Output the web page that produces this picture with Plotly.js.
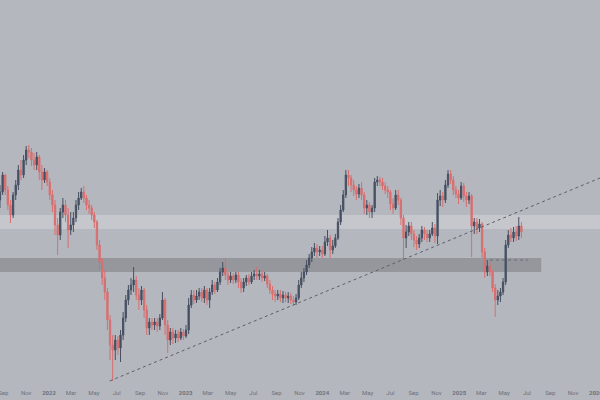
<!DOCTYPE html>
<html>
<head>
<meta charset="utf-8">
<script src="https://cdn.plot.ly/plotly-3.0.1.min.js"></script>
<style>html,body{margin:0;padding:0;background:#b4b7be;}#chart{width:600px;height:400px;}</style>
</head>
<body>
<div id="chart"></div>
<script>
// Weekly candles, first week starting 2021-08-16
const startWeek = '2021-08-16';
const openV = [205,200,208,225,210,195,185,205,215,230,225,240,250,248,240,235,243,228,220,228,
218,205,195,175,165,188,195,185,170,175,182,195,202,208,202,195,192,185,178,155,
138,122,108,80,55,50,60,52,65,82,100,110,115,120,105,100,110,90,72,78,
75,78,74,82,100,75,60,68,62,66,62,68,64,70,95,105,100,104,108,102,
110,100,108,115,110,118,128,132,125,120,124,120,125,118,112,118,122,118,124,126,
124,126,122,124,116,110,106,104,106,102,105,102,104,100,98,102,115,122,128,135,
142,148,152,148,150,146,158,162,150,154,162,178,190,205,225,222,215,210,206,212,
205,192,195,188,192,218,220,218,214,210,208,196,192,205,200,182,162,168,174,166,
160,156,162,170,166,162,166,172,164,200,204,200,215,226,220,210,206,202,214,204,
200,204,174,178,172,176,148,128,134,128,112,100,104,108,118,155,165,162,168,164,
174];
const highV = [210,215,228,226,214,200,208,220,235,240,245,254,255,252,247,248,245,235,232,230,
222,210,200,182,192,202,200,192,188,188,200,208,212,214,205,200,195,188,180,160,
142,130,112,85,65,65,64,70,88,105,115,122,133,124,112,114,112,95,82,82,
82,82,86,108,102,80,72,72,70,70,72,71,75,102,110,110,110,112,112,114,
112,112,120,118,122,132,138,142,128,128,127,128,128,122,122,125,126,128,130,133,
130,130,128,126,120,114,110,110,110,109,108,108,107,104,106,120,128,132,140,146,
153,157,156,154,154,164,170,165,160,166,182,195,210,230,230,225,220,214,216,218,
208,200,198,195,222,224,223,222,218,214,210,202,210,210,202,185,175,178,178,170,
164,166,174,173,170,170,178,176,207,210,208,220,230,230,224,214,210,218,217,208,
208,206,182,182,181,178,152,140,138,130,116,110,112,122,160,170,172,173,174,183,
178];
const lowV = [195,192,205,205,190,177,182,200,210,220,222,235,242,234,230,230,220,210,217,214,
200,188,165,145,160,182,178,152,165,168,178,190,200,197,190,186,180,172,150,130,
115,100,70,40,19,40,45,38,60,78,95,105,108,100,90,95,82,65,65,70,
70,68,70,80,65,47,55,56,57,58,60,60,62,66,92,96,97,100,98,97,
95,92,105,106,108,115,124,120,115,117,116,117,112,107,108,114,115,116,120,120,
120,118,119,112,106,100,98,100,98,97,98,97,96,94,95,100,112,118,125,132,
138,144,142,144,142,144,154,142,146,152,160,175,188,202,214,208,204,200,202,200,
186,185,182,182,188,214,214,210,206,202,190,186,190,195,175,140,152,164,160,153,
150,152,158,160,158,158,164,157,156,194,193,197,212,216,205,202,196,200,198,193,
196,143,166,166,168,142,122,124,124,108,83,95,98,105,115,152,158,158,159,160,
162];
const closeV = [200,208,225,210,195,185,205,215,230,225,240,250,248,240,235,243,228,220,228,218,
205,195,175,165,188,195,185,170,175,182,195,202,208,202,195,192,185,178,155,138,
122,108,80,55,50,60,52,65,82,100,110,115,120,105,100,110,90,72,78,75,
78,74,82,100,75,60,68,62,66,62,68,64,70,95,105,100,104,108,102,110,
100,108,115,110,118,128,132,125,120,124,120,125,118,112,118,122,118,124,126,124,
126,122,124,116,110,106,104,106,102,105,102,104,100,98,102,115,122,128,135,142,
148,152,148,150,146,158,162,150,154,162,178,190,205,225,222,215,210,206,212,205,
192,195,188,192,218,220,218,214,210,208,196,192,205,200,182,162,168,174,166,160,
156,162,170,166,162,166,172,164,200,204,200,215,226,220,210,206,202,214,204,200,
204,174,178,172,176,148,128,134,128,112,100,104,108,118,155,165,162,168,164,174,
168];

// Axis ticks
const tickDates = ['2021-09-01','2021-11-01','2022-01-01','2022-03-01','2022-05-01','2022-07-01','2022-09-01','2022-11-01',
'2023-01-01','2023-03-01','2023-05-01','2023-07-01','2023-09-01','2023-11-01',
'2024-01-01','2024-03-01','2024-05-01','2024-07-01','2024-09-01','2024-11-01',
'2025-01-01','2025-03-01','2025-05-01','2025-07-01','2025-09-01','2025-11-01','2026-01-01'];
const tickLabels = ['Sep','Nov','<b>2022</b>','Mar','May','Jul','Sep','Nov',
'<b>2023</b>','Mar','May','Jul','Sep','Nov',
'<b>2024</b>','Mar','May','Jul','Sep','Nov',
'<b>2025</b>','Mar','May','Jul','Sep','Nov','<b>2026</b>'];

// Zones and lines (price levels)
const lightZone = [171, 185];
const darkZone = [128, 142];
const darkZoneEnd = '2025-08-08';
const trendDates = ['2022-06-12','2026-01-12'];
const trendValues = [19, 222];
const levelDates = ['2025-03-24','2025-07-03'];
const levelValue = 140;

const dates = [];
{
  const d0 = new Date(startWeek + 'T00:00:00Z');
  for (let i = 0; i < closeV.length; i++) {
    const d = new Date(d0.getTime() + i * 7 * 86400000);
    dates.push(d.toISOString().slice(0, 10));
  }
}

const candles = {
  type: 'candlestick',
  x: dates, open: openV, high: highV, low: lowV, close: closeV,
  increasing: {line: {color: '#465062', width: 1}, fillcolor: '#465062'},
  decreasing: {line: {color: '#d96e6e', width: 1}, fillcolor: '#d96e6e'},
  whiskerwidth: 0,
  hoverinfo: 'skip',
  showlegend: false
};
const trend = {
  type: 'scatter', mode: 'lines', x: trendDates, y: trendValues,
  line: {color: '#5d6068', width: 1, dash: 'dot'}, hoverinfo: 'skip', showlegend: false
};
const level = {
  type: 'scatter', mode: 'lines', x: levelDates, y: [levelValue, levelValue],
  line: {color: '#6a6d74', width: 1, dash: 'dot'}, hoverinfo: 'skip', showlegend: false
};

const layout = {
  width: 600, height: 400,
  margin: {l: 0, r: 0, t: 0, b: 15, pad: 0},
  paper_bgcolor: '#b4b7be', plot_bgcolor: '#b4b7be',
  showlegend: false,
  xaxis: {
    type: 'date', range: ['2021-08-23', '2026-01-12'],
    rangeslider: {visible: false},
    showgrid: false, zeroline: false, showline: false, ticks: '',
    tickmode: 'array', tickvals: tickDates, ticktext: tickLabels,
    ticklabeloverflow: 'allow', ticklabelstandoff: 3,
    tickfont: {family: 'Roboto, Arial, sans-serif', size: 6, color: '#6e7179'}
  },
  yaxis: {
    range: [15, 400], showgrid: false, zeroline: false, showline: false,
    showticklabels: false, ticks: ''
  },
  shapes: [
    {type: 'rect', xref: 'paper', x0: 0, x1: 1, yref: 'y', y0: lightZone[0], y1: lightZone[1],
     fillcolor: '#c5c7cc', line: {width: 0}, layer: 'below'},
    {type: 'rect', xref: 'x', x0: '2021-08-01', x1: darkZoneEnd, yref: 'y', y0: darkZone[0], y1: darkZone[1],
     fillcolor: '#95979d', line: {width: 0}, layer: 'below'}
  ]
};

Plotly.newPlot('chart', [candles, trend, level], layout, {staticPlot: true, displayModeBar: false});
</script>
</body>
</html>
